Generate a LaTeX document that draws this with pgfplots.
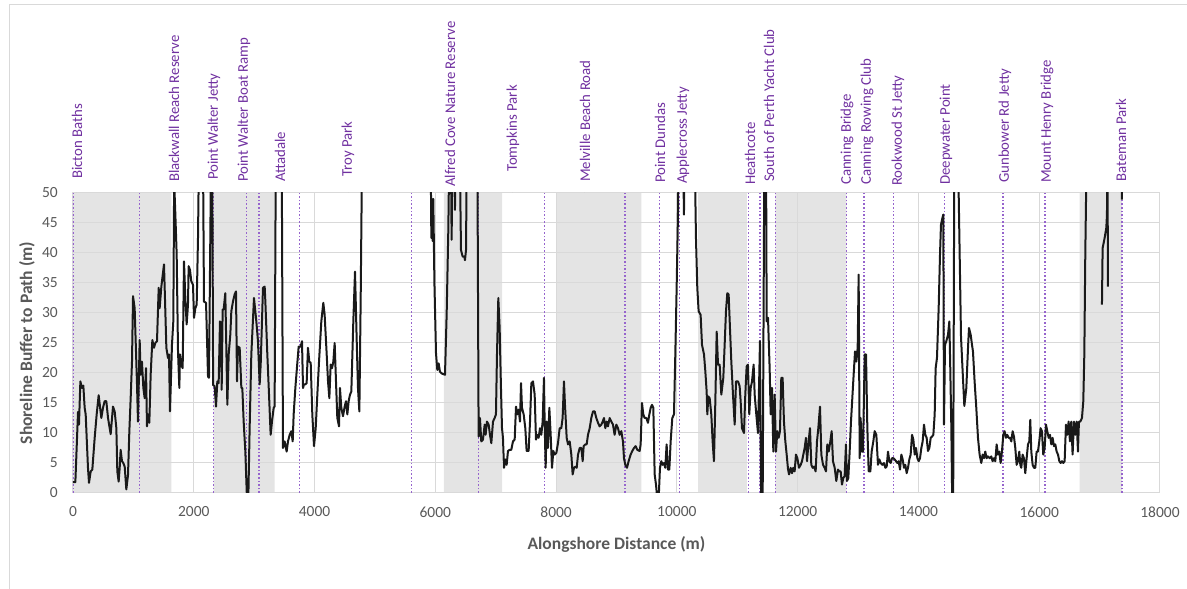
\documentclass[border=0pt]{standalone}
\usepackage{fontspec}
\setmainfont{Carlito}
\usepackage{pgfplots}
\usepackage{pgfplotstable}
\pgfplotsset{compat=1.18}

\definecolor{gridc}{RGB}{217,217,217}
\definecolor{shade}{RGB}{228,228,228}
\definecolor{site}{RGB}{112,48,160}
\definecolor{sitedot}{RGB}{150,100,205}
\definecolor{txt}{RGB}{89,89,89}

% shoreline buffer (m) against alongshore distance (m); nan = gap
\pgfplotstableread{
x y
0 1.8
39 1.8
83 13.5
99 11.4
122 18.6
149 17.5
171 17.9
193 14.2
210 13.1
248 4.2
265 1.7
293 3.6
320 3.9
359 9.2
392 13.1
425 16.3
469 12.5
497 14.2
524 15.3
552 15.3
580 12.5
624 9.8
662 14.4
690 13.6
718 10.8
734 3.6
756 1.9
773 4.2
789 7.2
811 5.3
833 5.0
856 4.4
883 0.6
911 3.0
933 10.3
955 15.8
977 21.9
994 32.8
1021 30.8
1038 25.3
1060 18.1
1076 11.9
1104 25.5
1120 19.7
1142 21.9
1165 17.5
1187 15.8
1209 20.8
1225 11.1
1242 13.1
1264 11.7
1286 19.7
1314 25.5
1341 24.2
1363 25.0
1391 25.3
1419 34.2
1435 30.8
1463 34.4
1490 36.7
1507 38.1
1529 30.3
1546 24.2
1573 22.5
1590 23.1
1606 13.6
1639 24.7
1661 28.6
1675 52
1695 46.4
1717 39.7
1739 23.6
1761 17.5
1772 23.1
1794 21.4
1816 20.8
1838 38.6
1860 32.5
1882 28.1
1904 31.4
1915 37.8
1937 37.2
1959 35.3
1987 34.7
2004 29.2
2026 30.8
2048 31.4
2070 42.5
2090 60
2150 60
2169 31.9
2203 31.7
2236 19.4
2252 19.2
2290 60
2305 60
2320 18
2346 17.8
2368 14.4
2390 18.6
2412 18.3
2434 28.6
2451 28.3
2462 17.2
2478 30.6
2495 30.6
2522 33.3
2539 24.2
2556 14.7
2578 23.1
2605 26.4
2622 30.3
2649 31.9
2677 33.1
2699 33.6
2716 18.6
2732 24.4
2760 24.2
2788 17.5
2804 17.5
2826 11.9
2854 6.9
2881 -1
2903 -1
2925 10.8
2953 23.1
2997 32.5
3036 28.6
3063 25.3
3091 18.1
3108 21.4
3146 34.2
3174 34.4
3185 32.0
3218 23.1
3246 16.4
3273 9.7
3295 11.9
3323 14.2
3339 14.4
3360 60
3455 60
3477 7.5
3505 8.6
3538 6.9
3560 8.6
3588 9.7
3615 10.3
3638 8.6
3654 13.1
3682 17.5
3715 21.7
3737 24.4
3770 24.4
3792 25.3
3809 17.5
3825 18.1
3847 18.1
3869 18.3
3891 24.2
3913 21.9
3936 21.7
3963 13.1
3991 7.8
4019 10.8
4046 16.4
4074 21.9
4112 28.6
4145 31.7
4167 29.7
4201 23.1
4223 18.6
4245 15.8
4267 21.4
4289 20.8
4311 21.9
4333 25.0
4355 18.6
4377 12.5
4405 11.1
4421 17.5
4443 14.2
4471 12.8
4499 14.4
4521 15.3
4543 13.1
4565 15.3
4587 16.4
4609 16.9
4642 28.6
4670 36.9
4697 25.8
4719 17.5
4742 13.6
4764 32.5
4790 60
5920 60
5934 42.5
5945 49
5955 42
5966 49
5985 35
6011 23.3
6033 20.5
6055 21.6
6077 20.2
6110 19.9
6160 19.7
6188 30
6215 43.8
6235 60
6255 60
6270 42.2
6285 60
6310 60
6325 47.2
6340 60
6400 60
6425 40.5
6453 39.4
6480 39.4
6491 38.8
6508 40.5
6524 60
6695 60
6717 9.4
6739 12.5
6761 8.6
6789 8.9
6817 11.4
6833 9.7
6855 11.9
6883 11.4
6905 9.7
6927 8.3
6955 11.9
6982 12.5
7004 13.1
7021 23.1
7043 32.5
7065 27.5
7087 17.5
7104 10.8
7120 9.2
7137 4.2
7159 5.6
7181 4.7
7203 7.0
7231 7.2
7258 7.2
7286 8.6
7314 8.9
7336 14.4
7358 13.1
7380 13.9
7402 11.9
7419 18.3
7435 14.2
7463 13.1
7490 10.8
7512 7.0
7545 7.0
7568 11.9
7590 18.3
7617 18.6
7645 16.4
7667 8.9
7689 9.7
7711 9.2
7733 10.8
7755 9.7
7777 11.9
7799 19.2
7810 11.9
7827 4.2
7843 11.9
7865 7.5
7888 14.2
7910 9.7
7932 4.2
7954 7.0
7976 6.4
8004 6.7
8031 8.3
8059 10.8
8086 10.8
8108 12.5
8130 18.6
8147 14.7
8175 9.2
8197 8.1
8225 8.6
8252 6.4
8274 3.1
8296 4.2
8324 4.4
8341 4.2
8363 6.4
8390 7.5
8418 7.5
8440 5.3
8456 7.8
8484 8.1
8506 8.1
8528 9.7
8556 10.8
8583 12.5
8611 13.6
8639 13.6
8666 12.5
8694 11.7
8721 11.1
8749 11.4
8771 11.9
8793 12.5
8815 10.8
8837 11.9
8859 11.1
8887 12.5
8914 11.9
8942 11.4
8969 9.7
8997 11.4
9025 10.8
9052 9.7
9080 10.3
9107 8.6
9124 5.8
9146 4.7
9174 4.2
9201 5.3
9234 6.4
9262 7.0
9290 7.5
9317 7.8
9345 7.2
9383 7.0
9400 8.1
9422 15.0
9444 13.1
9466 12.5
9494 12.5
9521 11.7
9544 13.1
9566 14.2
9588 14.7
9610 14.2
9632 3.1
9654 1.4
9676 -1
9698 -1
9720 4.2
9742 5.3
9764 4.7
9786 5.0
9808 4.2
9830 8.1
9853 3.9
9875 3.9
9897 8.6
9924 12.5
9952 13.1
9974 23.1
9996 34.2
10018 46.4
10035 60
10100 60
10117 46.4
10132 60
10290 60
10316 42.5
10338 34.2
10360 30.3
10393 29.7
10416 24.7
10449 23.1
10471 20.3
10493 16.9
10504 13.1
10521 16.1
10543 15.8
10570 13.1
10592 8.6
10614 5.3
10637 15.3
10659 26.9
10681 21.4
10708 21.4
10736 16.4
10769 19.2
10791 24.7
10813 30.3
10835 33.3
10857 33.1
10879 27.5
10901 22.0
10929 16.4
10957 11.4
10979 18.6
11012 18.6
11039 17.8
11056 15.3
11078 10.8
11111 10.0
11133 16.4
11155 21.1
11177 21.4
11199 13.1
11222 17.5
11244 18.6
11271 21.4
11288 16.4
11315 13.1
11343 10.0
11360 17.5
11376 25.3
11395 -2
11420 -2
11450 60
11475 60
11487 28.6
11509 29.2
11536 20.8
11553 13.1
11575 17.5
11597 6.9
11619 16.4
11641 6.9
11663 10.3
11685 9.2
11707 10.3
11729 19.2
11751 19.2
11773 11.9
11796 8.6
11818 6.4
11840 4.0
11857 3.1
11884 4.2
11906 3.3
11928 4.2
11950 3.6
11972 6.4
11995 5.8
12022 4.2
12050 4.7
12072 5.3
12094 6.4
12116 7.5
12138 9.2
12155 5.3
12182 8.6
12204 10.8
12226 4.7
12248 4.2
12271 4.4
12298 3.6
12320 8.6
12342 10.8
12370 14.4
12392 6.4
12420 4.7
12447 4.2
12469 3.6
12491 8.1
12514 6.9
12541 8.6
12563 10.3
12585 5.3
12613 4.2
12640 2.0
12668 3.9
12690 3.6
12712 3.6
12734 1.4
12756 2.5
12778 2.8
12800 8.1
12817 2.0
12839 2.5
12861 6.9
12883 11.9
12905 15.8
12927 19.7
12950 23.6
12972 21.9
12994 24.2
13010 36.4
13027 5.8
13043 12.5
13060 6.9
13082 6.9
13110 23.1
13132 23.1
13154 10.8
13176 3.6
13204 3.6
13225 6.9
13253 8.6
13275 10.3
13303 9.7
13330 4.7
13352 5.6
13375 5.0
13402 4.7
13430 5.0
13452 4.2
13474 4.4
13496 6.9
13518 5.3
13540 5.0
13562 5.8
13584 5.8
13606 5.6
13629 5.3
13651 5.0
13673 5.3
13695 3.9
13717 6.4
13739 5.6
13761 4.2
13783 4.7
13805 3.3
13827 4.2
13849 5.6
13871 6.4
13894 9.7
13916 8.9
13938 6.4
13960 7.5
13982 5.8
14004 5.3
14026 5.8
14048 7.5
14070 8.6
14092 11.4
14114 9.7
14136 9.2
14158 7.0
14181 7.5
14203 9.2
14225 9.4
14247 9.7
14269 13.1
14285 20.8
14307 22.5
14335 30.8
14357 39.7
14373 44.7
14396 45.8
14412 46.4
14423 11.4
14440 24.7
14462 25.3
14490 26.4
14512 28.6
14528 20.3
14545 10.8
14560 -2
14575 -2
14595 60
14650 60
14705 26
14738 19
14760 14.5
14793 17.5
14821 24.2
14837 27.5
14865 26.4
14887 24.7
14903 23.6
14930 18.6
14958 14.2
14986 9.2
15013 6.4
15041 5.0
15063 6.4
15085 5.8
15107 6.9
15129 5.8
15151 6.1
15179 5.8
15206 6.1
15228 5.3
15251 5.8
15273 5.3
15295 8.1
15317 6.4
15339 6.9
15361 5.0
15383 6.9
15405 9.7
15427 10.3
15449 9.2
15471 9.7
15493 9.2
15516 9.2
15538 8.6
15560 10.3
15582 9.4
15604 7.5
15626 4.7
15648 5.3
15670 6.9
15687 4.7
15703 4.2
15725 6.4
15747 5.8
15769 3.3
15792 5.8
15814 8.1
15836 8.6
15852 12.2
15869 6.9
15891 4.7
15913 4.2
15935 4.2
15957 6.9
15979 6.9
16001 8.6
16023 10.8
16045 10.3
16067 6.4
16090 7.5
16112 11.4
16134 10.3
16156 9.2
16178 9.7
16200 8.1
16222 9.2
16244 7.8
16266 8.1
16289 6.9
16311 6.4
16333 5.3
16355 5.0
16377 5.3
16399 5.0
16421 5.3
16443 11.4
16465 9.7
16487 11.9
16509 8.6
16531 11.9
16553 6.4
16575 11.9
16598 9.7
16620 11.9
16642 6.9
16658 11.9
16680 11.9
16708 12.5
16730 15.3
16747 23.1
16763 39.7
16790 60
16800 nan
17039 31.4
17050 40.8
17083 42.5
17111 44.2
17122 46.4
17130 60
17138 34.4
17200 nan
17355 60
17370 48.9
}\buffertable

% start/end of the shaded reaches (y = 50 inside a reach)
\pgfplotstableread{
x y
0 50
1628 0
2329 50
3340 0
6143 50
7104 0
8004 50
9411 0
10350 50
11160 0
11630 50
12806 0
16670 50
17371 0
}\reachtable

% landmark positions (dotted lines)
\pgfplotstableread{
x y
0 50
1104 50
2329 50
2870 50
3080 50
3754 50
5604 50
6718 50
7811 50
9136 50
9715 50
10046 50
11189 50
11376 50
11630 50
12806 50
13094 50
13590 50
14434 50
15400 50
16091 50
17371 50
}\landmarktable

% site names, set on the top edge; off = gap (pt) above the plot area
\pgfplotstableread[col sep=comma]{
x,y,off,label
66,50,14,Bicton Baths
1672,50,11,Blackwall Reach Reserve
2335,50,13,Point Walter Jetty
2832,50,11,Point Walter Boat Ramp
3428,50,11,Attadale
4554,50,16,Troy Park
6243,50,6,Alfred Cove Nature Reserve
7286,50,21,Tompkins Park
8478,50,11,Melville Beach Road
9720,50,10,Point Dundas
10101,50,9,Applecross Jetty
11211,50,8,Heathcote
11525,50,11,South of Perth Yacht Club
12817,50,8,Canning Bridge
13148,50,8,Canning Rowing Club
13661,50,7,Rookwood St Jetty
14456,50,8,Deepwater Point
15433,50,10,Gunbower Rd Jetty
16129,50,10,Mount Henry Bridge
17354,50,11,Bateman Park
}\sitetable

\begin{document}
\begin{tikzpicture}
\begin{axis}[
  at={(0pt,0pt)}, anchor=south west,
  scale only axis, width=1087pt, height=300pt,
  set layers,
  xmin=0, xmax=18000, ymin=0, ymax=50,
  xtick={0,2000,...,18000}, ytick={0,5,...,50},
  grid=major, major grid style={draw=gridc, line width=1pt},
  axis line style={draw=gridc, line width=1pt},
  major tick length=0pt,
  tick label style={font=\fontsize{15.5}{18}\selectfont, text=txt},
  /pgf/number format/assume math mode=true,
  /pgf/number format/1000 sep={},
  scaled x ticks=false,
  xticklabel style={anchor=center, yshift=-19pt},
  yticklabel style={anchor=east, inner sep=0pt, xshift=-15pt},
  xlabel={Alongshore Distance (m)},
  ylabel={Shoreline Buffer to Path (m)},
  label style={font=\bfseries\fontsize{17.5}{20}\selectfont, text=txt},
  xlabel style={at={(axis description cs:0.5,-0.1733)}, anchor=center},
  ylabel style={at={(axis description cs:-0.0423,0.5)}, anchor=center},
]
\addplot[const plot, fill=shade, draw=none, on layer=axis background] table {\reachtable} \closedcycle;
\addplot[ycomb, mark=none, draw=sitedot, line width=1.6pt, dash pattern=on 1.6pt off 2pt] table {\landmarktable};
\addplot[black!90, line width=2pt, line join=round, mark=none, unbounded coords=jump] table {\buffertable};
\addplot[only marks, mark=*, mark size=0pt, mark options={draw=none, fill=none},
  visualization depends on={\thisrow{off} \as \gap},
  nodes near coords, point meta=explicit symbolic,
  nodes near coords style={rotate=90, anchor=west, inner ysep=0pt, inner xsep=\gap pt,
    text=site, font=\fontsize{14.8}{17}\selectfont}]
  table[x=x, y=y, meta=label] {\sitetable};
\end{axis}
\draw[gridc, line width=1pt] (-63.5pt,-200pt) -- (-63.5pt,488pt) -- (1300pt,488pt);
\pgfresetboundingbox
\useasboundingbox (-73pt,-96pt) rectangle (1114pt,493pt);
\end{tikzpicture}
\end{document}
